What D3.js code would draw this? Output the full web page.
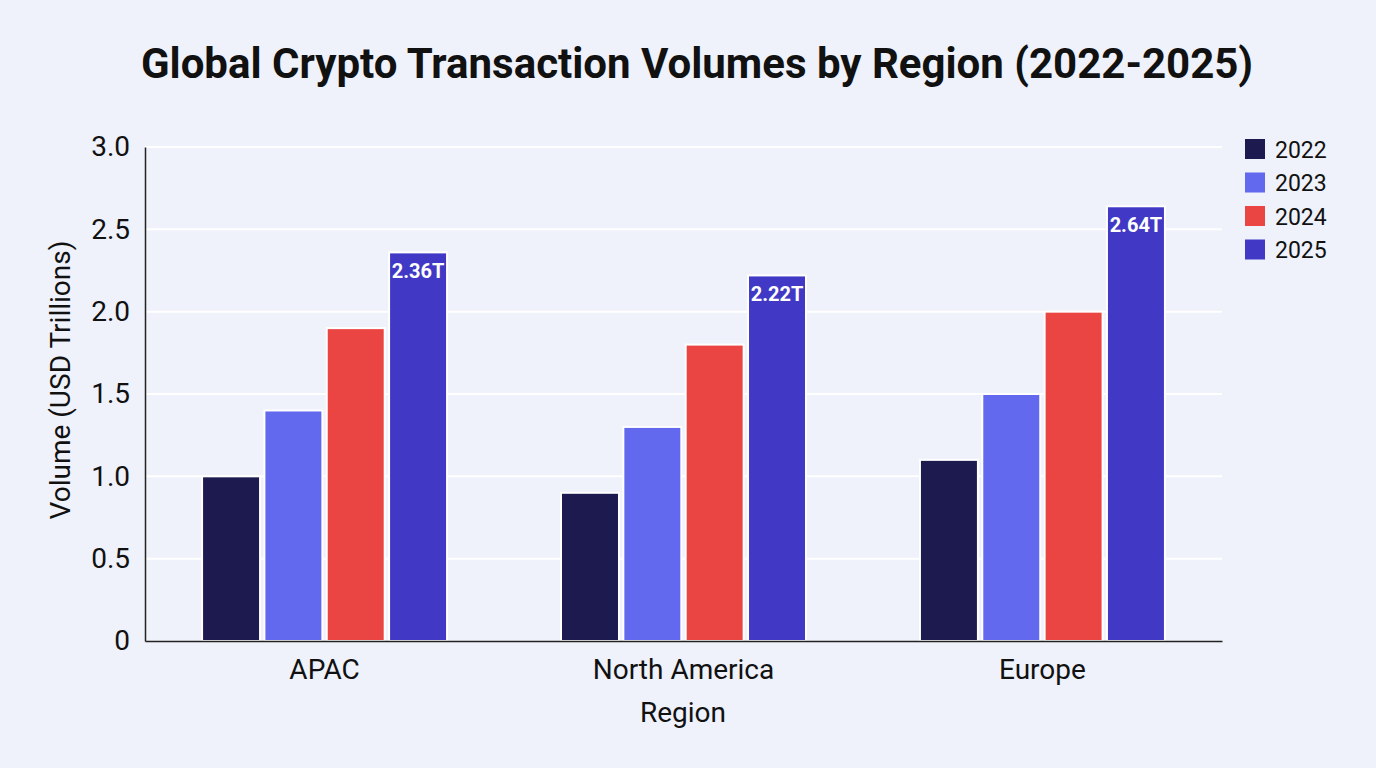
<!DOCTYPE html>
<html><head><meta charset="utf-8">
<script src="https://cdn.jsdelivr.net/npm/d3@7"></script>
<style>
html,body{margin:0;padding:0;background:#eff1fb;}
svg{display:block;font-family:Roboto, "Noto Sans", sans-serif;}
</style></head>
<body><svg id="c" width="1376" height="768"></svg>
<script>
const regions = ["APAC", "North America", "Europe"];
const years = ["2022", "2023", "2024", "2025"];
const v2022 = [1.0, 0.9, 1.1];
const v2023 = [1.4, 1.3, 1.5];
const v2024 = [1.9, 1.8, 2.0];
const v2025 = [2.36, 2.22, 2.64];
const colors = ["#1c1a4f", "#6369ee", "#ea4542", "#4139c6"];
const yTicks = [0, 0.5, 1.0, 1.5, 2.0, 2.5, 3.0];
const series = [v2022, v2023, v2024, v2025];

const svg = d3.select("#c");
const m = {l:145, r:1222, t:147, b:641};
const x0 = d3.scaleBand().domain(regions).range([m.l, m.r]).paddingInner(0.3175).paddingOuter(0.159);
const x1 = d3.scaleBand().domain(years).range([0, x0.bandwidth()]).paddingInner(0.07).paddingOuter(0);
const y = d3.scaleLinear().domain([0, 3]).range([m.b, m.t]);
const col = d3.scaleOrdinal().domain(years).range(colors);

// grid
svg.append("g").selectAll("line").data(yTicks.filter(d=>d>0)).join("line")
  .attr("x1", m.l).attr("x2", m.r).attr("y1", d=>y(d)).attr("y2", d=>y(d))
  .attr("stroke", "#ffffff").attr("stroke-width", 2);

// bars
const data = [];
regions.forEach((r,i)=>years.forEach((yr,j)=>data.push({r, yr, v: series[j][i]})));
svg.append("g").selectAll("rect").data(data).join("rect")
  .attr("x", d=>x0(d.r)+x1(d.yr)).attr("width", x1.bandwidth())
  .attr("y", d=>y(d.v)).attr("height", d=>y(0)-y(d.v))
  .attr("fill", d=>col(d.yr)).attr("stroke", "#ffffff").attr("stroke-width", 2);

// labels on 2025
svg.append("g").selectAll("text").data(data.filter(d=>d.yr==="2025")).join("text")
  .attr("x", d=>x0(d.r)+x1(d.yr)+x1.bandwidth()/2).attr("y", d=>y(d.v)+26)
  .attr("text-anchor","middle").attr("fill","#ffffff").attr("font-weight","bold")
  .attr("font-size", 20).text(d=>d.v.toFixed(2)+"T");

// axes
const ya = svg.append("g").attr("transform", `translate(${m.l},0)`)
  .call(d3.axisLeft(y).tickValues(yTicks).tickSize(0).tickPadding(15).tickFormat(d=>d===0?"0":d.toFixed(1)));
ya.select(".domain").attr("stroke","#222").attr("stroke-width",1.5);
ya.selectAll("text").attr("font-size",28).attr("fill","#111").attr("font-family","Roboto, sans-serif");

const xa = svg.append("g").attr("transform", `translate(0,${m.b})`)
  .call(d3.axisBottom(x0).tickSize(0).tickPadding(18));
xa.select(".domain").attr("stroke","#222").attr("stroke-width",1.5);
xa.selectAll("text").attr("font-size",28).attr("fill","#111").attr("font-family","Roboto, sans-serif");

// titles
svg.append("text").attr("x",697).attr("y",78).attr("text-anchor","middle")
  .attr("font-size",42).attr("font-weight","bold").attr("fill","#111")
  .text("Global Crypto Transaction Volumes by Region (2022-2025)");
svg.append("text").attr("x",683).attr("y",722).attr("text-anchor","middle")
  .attr("font-size",28).attr("fill","#111").text("Region");
svg.append("text").attr("transform","translate(70,380) rotate(-90)").attr("text-anchor","middle")
  .attr("font-size",28).attr("fill","#111").text("Volume (USD Trillions)");

// legend
const lg = svg.append("g").attr("transform","translate(1245,139)");
const li = lg.selectAll("g").data(years).join("g").attr("transform",(d,i)=>`translate(0,${i*33.5})`);
li.append("rect").attr("width",20).attr("height",20).attr("fill",d=>col(d));
li.append("text").attr("x",30).attr("y",18.5).attr("font-size",23).attr("fill","#111").text(d=>d);
</script></body></html>
